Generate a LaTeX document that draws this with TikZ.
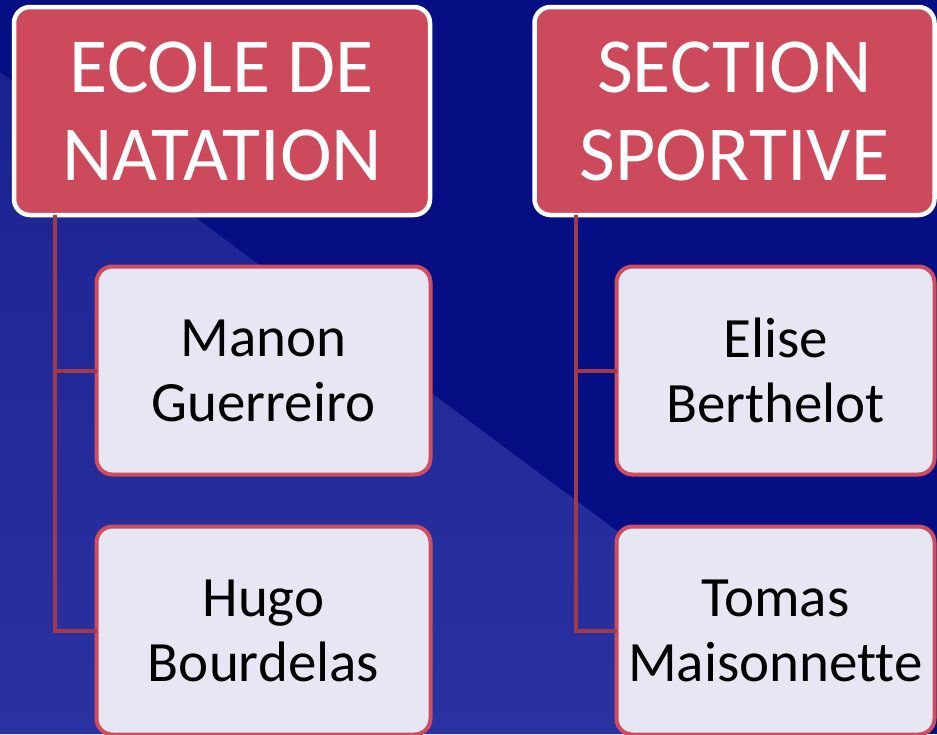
\documentclass[tikz,border=0pt]{standalone}
\usepackage{fontspec}
\setmainfont{Carlito}[Ligatures=NoCommon]
\usetikzlibrary{positioning, calc, shadings}

\definecolor{navydark}{HTML}{060E84}
\definecolor{navylight}{HTML}{1B2290}
\definecolor{navybottom}{HTML}{2A32A2}
\definecolor{headred}{HTML}{CC4A5B}
\definecolor{boxred}{HTML}{D04C5F}
\definecolor{boxfill}{HTML}{E6E7F3}
\definecolor{branchred}{HTML}{A03A48}

\begin{document}
\begin{tikzpicture}[x=1pt,y=-1pt,
  headbox/.style={rectangle,draw=white,line width=4.5pt,fill=headred,rounded corners=16pt,
    minimum height=208pt,outer sep=0pt,align=center,text=white,
    font=\fontsize{78}{88}\selectfont},
  namebox/.style={rectangle,draw=boxred,line width=4pt,fill=boxfill,rounded corners=16pt,
    minimum height=208pt,outer sep=0pt,align=center,text=black,
    font=\fontsize{57}{65}\selectfont},
  branch/.style={draw=branchred,line width=4pt}]
  \useasboundingbox (0,0) rectangle (937,734);
  \fill[navydark] (0,0) rectangle (937,734);
  \shade[top color=navylight,bottom color=navybottom] (0,72) -- (890,734) -- (0,734) -- cycle;
%
  \node(ecole)[headbox,minimum width=416pt] at (222,111) {ECOLE DE\\NATATION};
  \node(manon)[namebox,minimum width=334pt,below right=51.5pt and 82.5pt of ecole.south west,anchor=north west]{Manon\\Guerreiro};
  \node(hugo)[namebox,minimum width=334pt,below=52pt of manon]{Hugo\\Bourdelas};
%
  \node(section)[headbox,minimum width=400pt] at (734.5,111) {SECTION\\SPORTIVE};
  \node(elise)[namebox,minimum width=318pt,below right=51.5pt and 82pt of section.south west,anchor=north west]{Elise\\Berthelot};
  \node(tomas)[namebox,minimum width=318pt,below=52pt of elise]{Tomas\\Maisonnette};
%
\draw[branch]([xshift=41pt]ecole.south west) |- (manon.west);
\draw[branch]([xshift=41pt]ecole.south west) |- (hugo.west);
\draw[branch]([xshift=41pt]section.south west) |- (elise.west);
\draw[branch]([xshift=41pt]section.south west) |- (tomas.west);
\end{tikzpicture}
\end{document}
